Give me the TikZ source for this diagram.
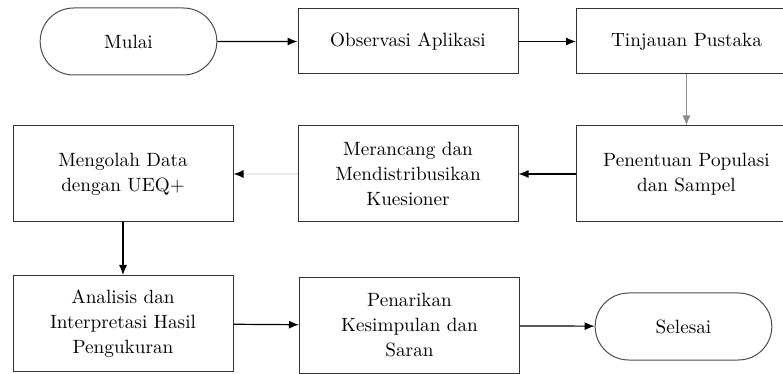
\documentclass[tikz,border=0pt]{standalone}
\usetikzlibrary{arrows.meta, positioning, shapes.misc}

\begin{document}
\begin{tikzpicture}[
    x=0.5pt, y=-0.5pt,
    font=\fontsize{9.6}{12.5}\selectfont,
    box/.style={draw=black!80, line width=0.5pt, rectangle, inner sep=2pt, minimum width=110pt, minimum height=48pt, align=center},
    lowbox/.style={box, minimum height=32.5pt},
    term/.style={draw=black!70, line width=0.5pt, rounded rectangle, minimum width=95pt, minimum height=33.5pt, align=center},
    arrow/.style={-{Latex[length=5pt, width=4pt]}, line width=0.6pt}
]

\useasboundingbox (0,0) rectangle (783,374);
\clip (0,0) rectangle (783,374);

% Row 1
\node[term] (mulai) at (128.5,41.5) {Mulai};
\node[lowbox] (obs) at (408,41.5) {Observasi Aplikasi};
\node[lowbox] (tinj) at (686.5,41.5) {Tinjauan Pustaka};

\draw[arrow] (mulai) -- (obs);
\draw[arrow] (obs) -- (tinj);

% Row 2
\node[box] (pen) at (686.5,174) {Penentuan Populasi\\dan Sampel};
\node[box] (mer) at (408,174) {Merancang dan\\Mendistribusikan\\Kuesioner};
\node[box] (meng) at (123,174) {Mengolah Data\\dengan UEQ+};

\draw[arrow, draw=black!45] (tinj) -- (pen);
\draw[arrow] (pen) -- (mer);
\draw[-{Latex[length=5pt, width=4pt, color=black]}, line width=0.6pt, draw=black!8] (mer) -- (meng);

% Row 3
\node[box] (anal) at (123,323.5) {Analisis dan\\Interpretasi Hasil\\Pengukuran};
\node[box] (tarik) at (409.5,325.5) {Penarikan\\Kesimpulan dan\\Saran};
\node[term] (sel) at (683.5,326.5) {Selesai};

\draw[arrow] (meng) -- (anal);
\draw[arrow] (anal) -- (tarik);
\draw[arrow] (tarik) -- (sel);

\end{tikzpicture}
\end{document}
